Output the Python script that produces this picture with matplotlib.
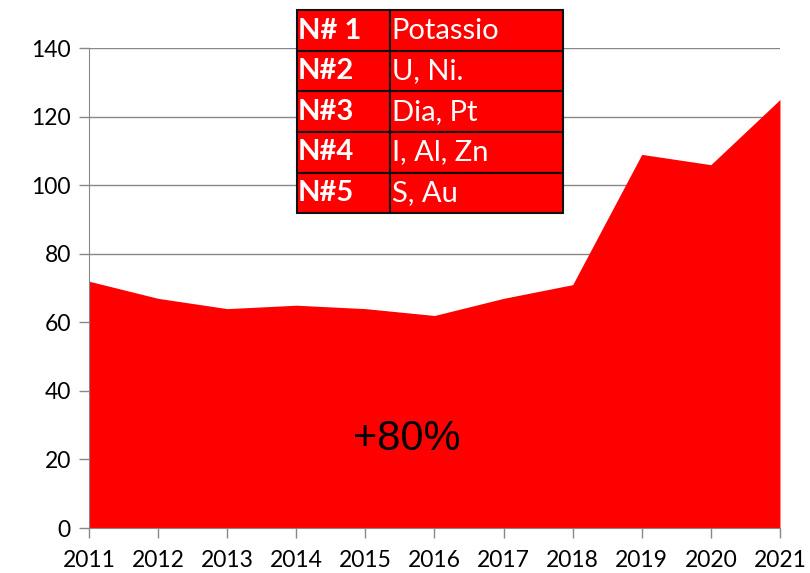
import matplotlib.pyplot as plt

years = [2011, 2012, 2013, 2014, 2015, 2016, 2017, 2018, 2019, 2020, 2021]
values = [72, 67, 64, 65, 64, 62, 67, 71, 109, 106, 125]
yticks = [0, 20, 40, 60, 80, 100, 120, 140]

table_rows = [
    ["N# 1", "Potassio"],
    ["N#2", "U, Ni."],
    ["N#3", "Dia, Pt"],
    ["N#4", "I, Al, Zn"],
    ["N#5", "S, Au"],
]

plt.rcParams['font.family'] = ['Lato', 'DejaVu Sans']

fig = plt.figure(figsize=(8.1, 5.73), dpi=100)
ax = fig.add_axes([0.1099, 0.0785, 0.853, 0.8375])

ax.fill_between(years, values, 0, color="#ff0000", linewidth=0, zorder=2)

ax.set_xlim(years[0], years[-1])
ax.set_ylim(0, 140)
ax.set_xticks(years)
ax.set_yticks(yticks)
ax.tick_params(axis="both", labelsize=16.5, color="#888888", length=7, width=1)
ax.tick_params(axis="x", pad=9)
ax.tick_params(axis="y", pad=6)
ax.grid(axis="y", color="#888888", linewidth=1, zorder=1)

for s in ["top", "right"]:
    ax.spines[s].set_visible(False)
for s in ["left", "bottom"]:
    ax.spines[s].set_color("#888888")
    ax.spines[s].set_zorder(3)

ax.text(2015.6, 26, "+80%", fontsize=30, ha="center", va="center",
        family="Liberation Sans", zorder=4)

tab = ax.table(cellText=table_rows, colWidths=[0.35, 0.65],
               bbox=[0.301, 0.656, 0.385, 0.423], cellLoc="left")
tab.auto_set_font_size(False)
for (r, c), cell in tab.get_celld().items():
    cell.set_facecolor("#ff0000")
    cell.set_edgecolor("#111111")
    cell.set_linewidth(1.5)
    cell.PAD = 0.01
    t = cell.get_text()
    t.set_color("white")
    t.set_fontsize(21)
    if c == 0:
        t.set_fontweight("bold")
tab.set_clip_on(False)
tab.set_zorder(5)

fig.savefig("out.png", dpi=100)
